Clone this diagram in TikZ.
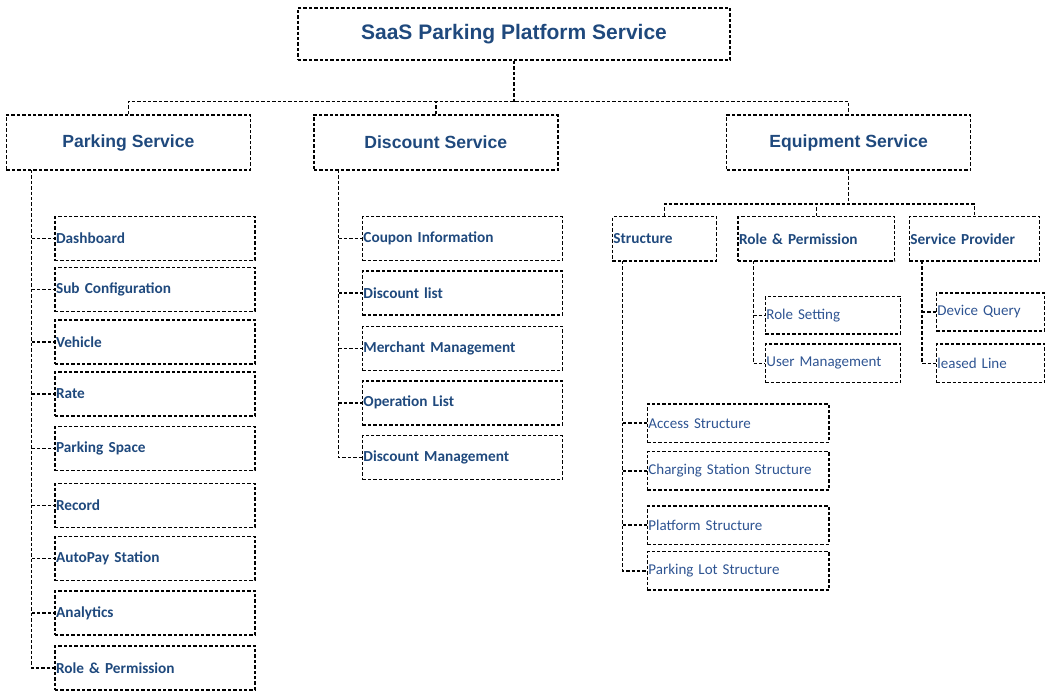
\documentclass[tikz,border=0pt]{standalone}
\usepackage{fontspec}
\setmainfont{Liberation Sans}
\newfontfamily\calib{Carlito}
\definecolor{tblue}{RGB}{31,73,125}
\definecolor{lblue}{RGB}{46,84,146}
\begin{document}
\begin{tikzpicture}[x=1pt,y=-1pt,
  dline/.style={draw=black,line width=1.45pt,dash pattern=on 3.4pt off 2pt},
  box/.style={dline,rectangle,inner sep=0pt},
  titlebox/.style={box,minimum width=432pt,minimum height=52pt,text=tblue,font=\fontsize{21}{25}\selectfont\bfseries},
  svcbox/.style={box,minimum width=244pt,minimum height=55pt,text=tblue,font=\fontsize{17.6}{21}\selectfont\bfseries},
  leaf/.style={box,text width=198pt,inner xsep=1pt,minimum height=44pt,align=left,text=tblue,font=\calib\fontsize{15.3}{18}\selectfont\bfseries},
  subhead/.style={box,inner xsep=1pt,minimum height=44.3pt,align=left,text=tblue,font=\calib\fontsize{15.3}{18}\selectfont\bfseries},
  small/.style={box,inner xsep=1pt,align=left,text=lblue,font=\calib\fontsize{15}{18}\selectfont},
  conn/.style={dline}
]
\useasboundingbox (0,0) rectangle (1050,696);

% top
\node[titlebox] (title) at (514,34) {SaaS Parking Platform Service};
\node[svcbox] (ps) at (128.4,142.5) {Parking Service};
\node[svcbox] (ds) at (435.8,142.5) {Discount Service};
\node[svcbox] (es) at (848.7,142.5) {Equipment Service};
\coordinate (bus) at (514,101.5);
\draw[conn] (title.south) -- (bus);
\draw[conn] (ps.north) |- (bus) -| (es.north);
\draw[conn] (ds.north) -- (ds.north |- bus);

% parking leaves
\foreach \n/\y/\t in {p1/238.5/Dashboard, p2/289.5/Sub Configuration, p3/342/Vehicle,
  p4/394/Rate, p5/448.5/Parking Space, p6/505.5/Record, p7/558.5/AutoPay Station,
  p8/613/Analytics, p9/668/Role \& Permission}
  \node[leaf,anchor=west] (\n) at (54.3,\y) {\t};
\coordinate (pst) at (31.6,170);
\draw[conn] (pst) |- (p9.west);
\foreach \n in {p1,p2,p3,p4,p5,p6,p7,p8}
  \draw[conn] (\n.west -| pst) -- (\n.west);

% discount leaves
\foreach \n/\y/\t in {d1/238.7/Coupon Information, d2/293.2/Discount list,
  d3/348.3/Merchant Management, d4/402.8/Operation List, d5/457.7/Discount Management}
  \node[leaf,anchor=west] (\n) at (361.7,\y) {\t};
\coordinate (dst) at (338.5,170);
\draw[conn] (dst) |- (d5.west);
\foreach \n in {d1,d2,d3,d4}
  \draw[conn] (\n.west -| dst) -- (\n.west);

% equipment sub heads
\node[subhead,text width=102.3pt,anchor=west] (st) at (611.7,238.8) {Structure};
\node[subhead,text width=154.7pt,anchor=west] (rp) at (737.3,238.8) {Role \& Permission};
\node[subhead,text width=128pt,anchor=west] (sp) at (908.7,238.8) {Service Provider};
\coordinate (ebus) at (848.7,204);
\draw[conn] (es.south) -- (ebus);
\draw[conn] (st.north) |- (ebus) -| (sp.north);
\draw[conn] (rp.north) -- (rp.north |- ebus);

% role & permission leaves
\node[small,text width=133.3pt,minimum height=37.3pt,anchor=west] (rs) at (764.7,315.3) {Role Setting};
\node[small,text width=133.3pt,minimum height=38.7pt,anchor=west] (um) at (764.7,363.3) {User Management};
\coordinate (rpt) at (753.3,261);
\draw[conn] (rpt) |- (um.west);
\draw[conn] (rs.west -| rpt) -- (rs.west);

% service provider leaves
\node[small,text width=106.3pt,minimum height=38pt,anchor=west] (dq) at (935.7,312) {Device Query};
\node[small,text width=106.3pt,minimum height=38.7pt,anchor=west] (ll) at (935.7,363.3) {leased Line};
\coordinate (spt) at (922,261);
\draw[conn] (spt) |- (ll.west);
\draw[conn] (dq.west -| spt) -- (dq.west);

% structure leaves
\foreach \n/\y/\t in {s1/423.2/Access Structure, s2/470.8/Charging Station Structure,
  s3/525.2/Platform Structure, s4/570.8/Parking Lot Structure}
  \node[small,text width=179.7pt,minimum height=38.3pt,anchor=west] (\n) at (646.7,\y) {\t};
\coordinate (stt) at (622.7,261);
\draw[conn] (stt) |- (s4.west);
\foreach \n in {s1,s2,s3}
  \draw[conn] (\n.west -| stt) -- (\n.west);
\end{tikzpicture}
\end{document}
